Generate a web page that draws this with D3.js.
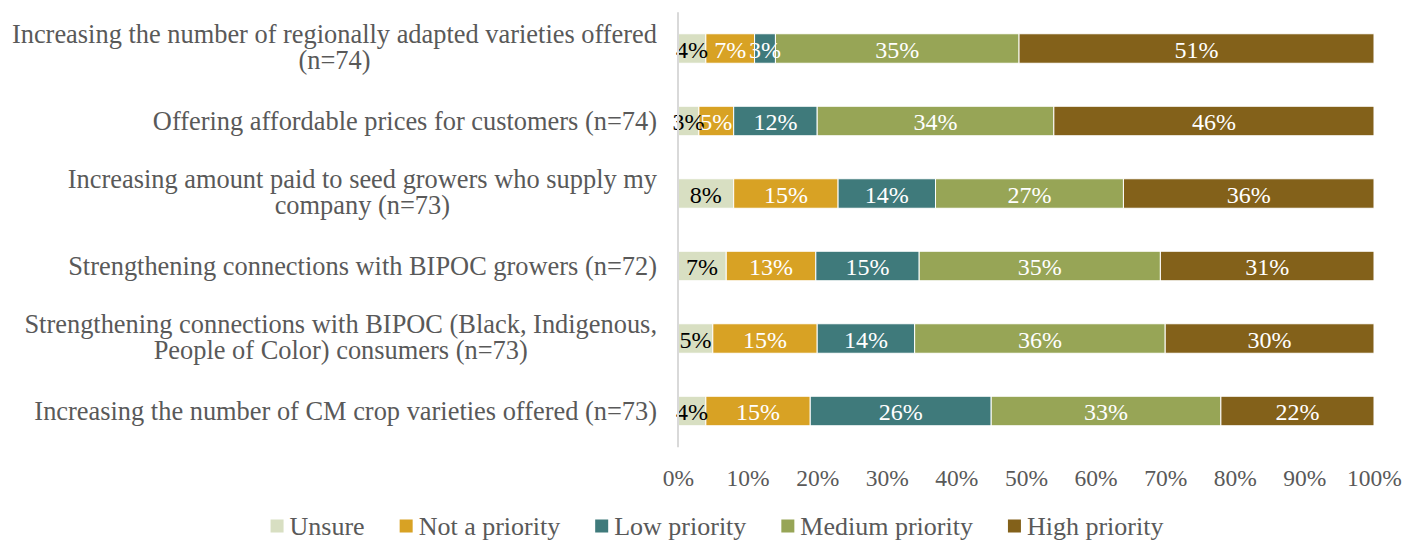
<!DOCTYPE html>
<html>
<head>
<meta charset="utf-8">
<script src="https://cdn.jsdelivr.net/npm/d3@7"></script>
<style>
  html, body { margin: 0; padding: 0; background: #ffffff; }
  svg { display: block; }
  text { font-family: "Liberation Serif", "DejaVu Serif", serif; }
</style>
</head>
<body>
<svg id="chart" width="1420" height="541"></svg>
<script>
// Survey items (line breaks mark where long labels wrap)
const categories = [
  "Increasing the number of regionally adapted varieties offered\n(n=74)",
  "Offering affordable prices for customers (n=74)",
  "Increasing amount paid to seed growers who supply my\ncompany (n=73)",
  "Strengthening connections with BIPOC growers (n=72)",
  "Strengthening connections with BIPOC (Black, Indigenous,\nPeople of Color) consumers (n=73)",
  "Increasing the number of CM crop varieties offered (n=73)"
];

// Share of respondents (%) per priority level
const unsure         = [4, 3, 8, 7, 5, 4];
const notAPriority   = [7, 5, 15, 13, 15, 15];
const lowPriority    = [3, 12, 14, 15, 14, 26];
const mediumPriority = [35, 34, 27, 35, 36, 33];
const highPriority   = [51, 46, 36, 31, 30, 22];

const seriesNames = ["Unsure", "Not a priority", "Low priority", "Medium priority", "High priority"];
const seriesColors = ["#d8dfc2", "#d8a224", "#3f7a7b", "#97a556", "#83611a"];
const labelColors = ["#000000", "#ffffff", "#ffffff", "#ffffff", "#ffffff"];

const tickValues = [0, 0.1, 0.2, 0.3, 0.4, 0.5, 0.6, 0.7, 0.8, 0.9, 1];
const tickLabels = ["0%", "10%", "20%", "30%", "40%", "50%", "60%", "70%", "80%", "90%", "100%"];

// Build rows for the stack layout
const seriesValues = [unsure, notAPriority, lowPriority, mediumPriority, highPriority];
const rows = categories.map((c, i) => {
  const r = { category: c };
  seriesNames.forEach((s, k) => { r[s] = seriesValues[k][i]; });
  return r;
});

const stack = d3.stack().keys(seriesNames).offset(d3.stackOffsetExpand);
const layers = stack(rows);

const svg = d3.select("#chart");
const textGray = "#595959";

const x = d3.scaleLinear().domain([0, 1]).range([678, 1374]);
const y = d3.scaleBand().domain(categories).range([12.25, 447.25])
  .paddingInner(0.593).paddingOuter(0.2965);

// Bars
const layerG = svg.append("g").selectAll("g").data(layers).join("g")
  .attr("fill", (d, i) => seriesColors[i]);

layerG.selectAll("rect").data(d => d).join("rect")
  .attr("x", d => x(d[0]))
  .attr("y", d => y(d.data.category))
  .attr("width", d => x(d[1]) - x(d[0]))
  .attr("height", y.bandwidth())
  .attr("stroke", "#ffffff")
  .attr("stroke-width", 1);

// Value labels inside segments
layers.forEach((layer, i) => {
  svg.append("g").selectAll("text").data(layer).join("text")
    .attr("x", d => (x(d[0]) + x(d[1])) / 2)
    .attr("y", d => y(d.data.category) + y.bandwidth() / 2)
    .attr("dy", "0.38em")
    .attr("text-anchor", "middle")
    .attr("font-size", 24)
    .attr("fill", labelColors[i])
    .text(d => d.data[layer.key] + "%");
});

// Vertical category axis line
const yAxis = svg.append("g")
  .attr("transform", `translate(${x(0)},0)`)
  .call(d3.axisLeft(y).tickSize(0).tickFormat(""));
yAxis.select(".domain").attr("stroke", "#d9d9d9").attr("stroke-width", 2)
  .attr("d", `M0,${y.range()[0]}V${y.range()[1]}`);

// Percentage axis (labels only)
const xAxis = svg.append("g")
  .attr("transform", "translate(0,478)")
  .call(d3.axisBottom(x).tickValues(tickValues).tickSize(0)
    .tickFormat((d, i) => tickLabels[i]));
xAxis.select(".domain").remove();
xAxis.selectAll("text")
  .attr("y", 0).attr("dy", "0.35em")
  .attr("font-family", "Liberation Serif, serif")
  .attr("font-size", 23.5)
  .attr("fill", textGray);

// Category labels: right-aligned block, wrapped lines centred within it
const labelRight = 657;
const lineH = 26;
categories.forEach(c => {
  const lines = c.split("\n");
  const cy = y(c) + y.bandwidth() / 2;
  const t = svg.append("text")
    .attr("font-size", 26.4)
    .attr("fill", textGray)
    .attr("text-anchor", "middle");
  const shift = lines.length > 1 ? -1.5 : 0;
  const spans = lines.map((ln, j) => t.append("tspan")
    .attr("y", cy + (j - (lines.length - 1) / 2) * lineH + shift)
    .attr("dy", "0.35em")
    .text(ln));
  const maxW = d3.max(spans, s => s.node().getComputedTextLength());
  spans.forEach(s => s.attr("x", labelRight - maxW / 2));
});

// Legend
const legend = svg.append("g");
const sw = 13, gapText = 6, gapItem = 35;
let cursor = 0;
seriesNames.forEach((name, i) => {
  const item = legend.append("g").attr("transform", `translate(${cursor},0)`);
  item.append("rect").attr("x", 0).attr("y", -sw / 2).attr("width", sw).attr("height", sw)
    .attr("fill", seriesColors[i]);
  const t = item.append("text").attr("x", sw + gapText).attr("y", 0).attr("dy", "0.35em")
    .attr("font-size", 26).attr("fill", textGray).text(name);
  cursor += sw + gapText + t.node().getComputedTextLength() + gapItem;
});
const legendW = cursor - gapItem;
legend.attr("transform", `translate(${717 - legendW / 2},526)`);
</script>
</body>
</html>
